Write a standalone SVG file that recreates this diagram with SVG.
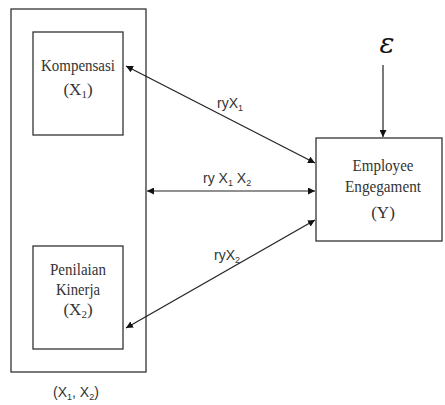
<svg xmlns="http://www.w3.org/2000/svg" width="445" height="405" viewBox="0 0 445 405">
<defs>
<marker id="ah" viewBox="0 0 10 10" refX="10" refY="5" markerWidth="7" markerHeight="7" orient="auto-start-reverse" markerUnits="userSpaceOnUse">
<path d="M0,0 L10,5 L0,10 z" fill="#111"/>
</marker>
<style>
.box{fill:#fff;stroke:#333;stroke-width:1.3}
.serif{font-family:"Liberation Serif","DejaVu Serif",serif;font-size:17px;fill:#333;text-anchor:middle}
.sans{font-family:"Liberation Sans",Arial,sans-serif;font-size:14px;fill:#333}
.sub{font-size:9px}
.conn{stroke:#222;stroke-width:1.2;fill:none}
</style>
</defs>
<rect width="445" height="405" fill="#fff"/>
<g id="outer">
<rect class="box" x="11" y="9" width="135" height="363"/>
<text class="sans" x="53" y="397">(X<tspan class="sub" dy="3">1</tspan><tspan dy="-3">, X</tspan><tspan class="sub" dy="3">2</tspan><tspan dy="-3">)</tspan></text>
</g>
<g id="kompensasi">
<rect class="box" x="33" y="32" width="90" height="103"/>
<text class="serif" x="78" y="71" textLength="74" lengthAdjust="spacingAndGlyphs">Kompensasi</text>
<text class="serif" x="78" y="95">(X<tspan font-size="11" dy="3">1</tspan><tspan dy="-3">)</tspan></text>
</g>
<g id="penilaian">
<rect class="box" x="33" y="246" width="90" height="103"/>
<text class="serif" x="78" y="275" textLength="56" lengthAdjust="spacingAndGlyphs">Penilaian</text>
<text class="serif" x="78" y="295" textLength="44" lengthAdjust="spacingAndGlyphs">Kinerja</text>
<text class="serif" x="78" y="315">(X<tspan font-size="11" dy="3">2</tspan><tspan dy="-3">)</tspan></text>
</g>
<g id="employee">
<rect class="box" x="316" y="138" width="126" height="103"/>
<text class="serif" x="383" y="171" textLength="61" lengthAdjust="spacingAndGlyphs">Employee</text>
<text class="serif" x="383" y="192" textLength="76" lengthAdjust="spacingAndGlyphs">Engegament</text>
<text class="serif" x="383" y="218">(Y)</text>
</g>
<g id="epsilon">
<text x="387" y="53" font-family="DejaVu Serif,serif" font-style="italic" font-size="28" fill="#111" text-anchor="middle">ε</text>
</g>
<g id="connectors">
<line class="conn" x1="126" y1="66" x2="315" y2="163" marker-start="url(#ah)" marker-end="url(#ah)"/>
<line class="conn" x1="147" y1="191" x2="315" y2="191" marker-start="url(#ah)" marker-end="url(#ah)"/>
<line class="conn" x1="126" y1="328" x2="315" y2="220" marker-start="url(#ah)" marker-end="url(#ah)"/>
<line class="conn" x1="383" y1="65" x2="383" y2="137" marker-end="url(#ah)"/>
<text class="sans" x="217" y="108">ryX<tspan class="sub" dy="3">1</tspan></text>
<text class="sans" x="203" y="183">ry X<tspan class="sub" dy="3">1</tspan><tspan dy="-3"> X</tspan><tspan class="sub" dy="3">2</tspan></text>
<text class="sans" x="214" y="260">ryX<tspan class="sub" dy="3">2</tspan></text>
</g>
</svg>
